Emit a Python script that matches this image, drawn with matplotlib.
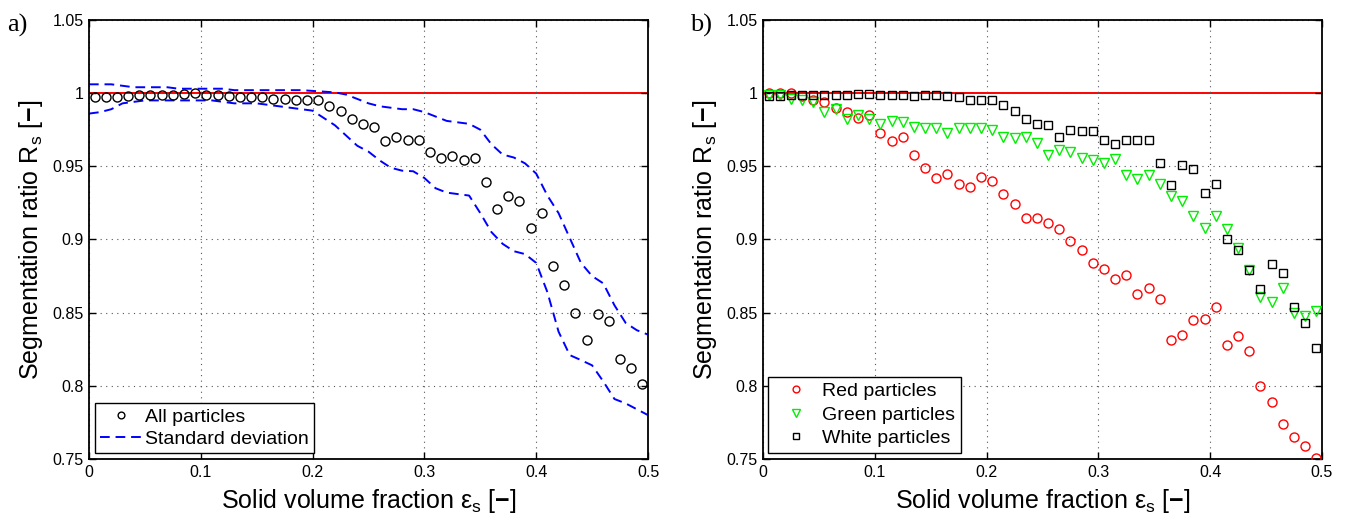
import numpy as np
import matplotlib
matplotlib.use("Agg")
import matplotlib.pyplot as plt

plt.rcParams["font.family"] = ["Liberation Sans", "DejaVu Sans"]
plt.rcParams["mathtext.fontset"] = "custom"
plt.rcParams["mathtext.rm"] = "Liberation Sans"
plt.rcParams["mathtext.it"] = "Liberation Sans:italic"
plt.rcParams["mathtext.bf"] = "Liberation Sans:bold"

# ── data ──
eps = np.round(np.arange(0.005, 0.5, 0.01), 3)          # marker positions
eps_std = np.round(np.arange(0.0, 0.501, 0.01), 2)      # std-deviation curve positions

rs_all = [0.997, 0.997, 0.997, 0.998, 0.999, 0.999, 0.999, 0.999, 0.9995, 1.000,
          0.999, 0.999, 0.998, 0.997, 0.997, 0.997, 0.996, 0.996, 0.995, 0.995,
          0.995, 0.991, 0.988, 0.982, 0.979, 0.977, 0.967, 0.970, 0.968, 0.968,
          0.960, 0.956, 0.957, 0.954, 0.956, 0.939, 0.921, 0.930, 0.926, 0.908,
          0.918, 0.882, 0.869, 0.850, 0.831, 0.849, 0.844, 0.818, 0.812, 0.801]

std_upper = [1.006, 1.006, 1.006, 1.005, 1.004, 1.004, 1.004, 1.004, 1.003, 1.003,
             1.003, 1.003, 1.003, 1.002, 1.002, 1.002, 1.002, 1.002, 1.002, 1.002,
             1.0015, 1.001, 1.0005, 0.999, 0.996, 0.993, 0.991, 0.990, 0.989, 0.989,
             0.987, 0.984, 0.981, 0.980, 0.979, 0.975, 0.965, 0.958, 0.956, 0.952,
             0.945, 0.930, 0.918, 0.901, 0.884, 0.875, 0.870, 0.855, 0.843, 0.838,
             0.835]
std_lower = [0.986, 0.987, 0.989, 0.993, 0.994, 0.995, 0.995, 0.995, 0.995, 0.995,
             0.995, 0.995, 0.994, 0.993, 0.993, 0.993, 0.992, 0.991, 0.990, 0.989,
             0.988, 0.983, 0.978, 0.971, 0.964, 0.960, 0.954, 0.949, 0.947, 0.9466,
             0.942, 0.935, 0.932, 0.931, 0.930, 0.918, 0.905, 0.897, 0.892, 0.890,
             0.884, 0.864, 0.837, 0.821, 0.8176, 0.814, 0.803, 0.791, 0.788, 0.784,
             0.780]

rs_red = [1.000, 1.000, 1.000, 0.998, 0.995, 0.994, 0.990, 0.987, 0.983, 0.985,
          0.973, 0.967, 0.970, 0.958, 0.949, 0.942, 0.945, 0.938, 0.936, 0.943,
          0.940, 0.931, 0.924, 0.915, 0.915, 0.911, 0.907, 0.899, 0.893, 0.884,
          0.880, 0.873, 0.876, 0.863, 0.867, 0.859, 0.831, 0.835, 0.845, 0.846,
          0.854, 0.828, 0.834, 0.824, 0.800, 0.789, 0.774, 0.765, 0.759, 0.751]
rs_green = [0.999, 0.999, 0.996, 0.995, 0.994, 0.987, 0.989, 0.982, 0.985, 0.982,
            0.979, 0.981, 0.980, 0.977, 0.976, 0.976, 0.973, 0.976, 0.976, 0.976,
            0.975, 0.970, 0.969, 0.970, 0.966, 0.958, 0.961, 0.960, 0.956, 0.954,
            0.952, 0.955, 0.944, 0.941, 0.944, 0.938, 0.930, 0.926, 0.916, 0.908,
            0.916, 0.907, 0.894, 0.879, 0.861, 0.857, 0.867, 0.850, 0.848, 0.851]
rs_white = [0.998, 0.998, 0.999, 0.999, 0.999, 0.999, 0.999, 0.999, 0.9995, 0.9995,
            0.999, 0.999, 0.9985, 0.998, 0.999, 0.9985, 0.998, 0.997, 0.995, 0.995,
            0.995, 0.992, 0.988, 0.982, 0.979, 0.978, 0.970, 0.975, 0.974, 0.974,
            0.968, 0.965, 0.968, 0.968, 0.968, 0.952, 0.937, 0.951, 0.948, 0.932,
            0.938, 0.900, 0.893, 0.879, 0.866, 0.883, 0.877, 0.854, 0.843, 0.826]

x_ticks = [0, 0.1, 0.2, 0.3, 0.4, 0.5]
y_ticks = [0.75, 0.8, 0.85, 0.9, 0.95, 1.0, 1.05]

XLABEL = r"Solid volume fraction ε$_\mathrm{s}$ [$\mathbf{-}$]"
YLABEL = r"Segmentation ratio R$_\mathrm{s}$ [$\mathbf{-}$]"


def style_axes(ax):
    ax.set_xlim(0, 0.5)
    ax.set_ylim(0.75, 1.05)
    ax.set_xticks(x_ticks)
    ax.set_xticklabels([f"{v:g}" for v in x_ticks])
    ax.set_yticks(y_ticks)
    ax.set_yticklabels([f"{v:g}" for v in y_ticks])
    ax.grid(True, linestyle=(0, (1, 4)), color="#555555", linewidth=0.8)
    ax.tick_params(direction="in", top=True, right=True, length=5,
                   width=1.0, labelsize=11.5, pad=4)
    for sp in ax.spines.values():
        sp.set_linewidth(1.3)
    ax.set_xlabel(XLABEL, fontsize=18, labelpad=5)
    ax.set_ylabel(YLABEL, fontsize=18, labelpad=5)
    ax.axhline(1.0, color="#ff0000", linewidth=1.4, zorder=1.5)


fig = plt.figure(figsize=(13.52, 5.24), dpi=100)
ax1 = fig.add_axes([0.0658, 0.124, 0.4135, 0.838])
ax2 = fig.add_axes([0.5643, 0.124, 0.4135, 0.838])

# ── Panel a
style_axes(ax1)
ax1.plot(eps, rs_all, "o", mfc="none", mec="black", ms=6.5, mew=1.0,
         label="All particles", zorder=3)
ax1.plot(eps_std, std_upper, "--", color="#0000ff", linewidth=1.4, dashes=(5, 3),
         label="Standard deviation", zorder=2)
ax1.plot(eps_std, std_lower, "--", color="#0000ff", linewidth=1.4, dashes=(5, 3),
         zorder=2)
leg1 = ax1.legend(loc="lower left", bbox_to_anchor=(0.0107, 0.0137), borderaxespad=0,
                  fontsize=14, fancybox=False, framealpha=1, edgecolor="black",
                  handlelength=2.2, handletextpad=0.15, labelspacing=0.25,
                  borderpad=0.25, markerscale=0.75)
leg1.get_frame().set_linewidth(1.0)

# ── Panel b
style_axes(ax2)
ax2.plot(eps, rs_red, "o", mfc="none", mec="#ff0000", ms=6.5, mew=1.0,
         label="Red particles", zorder=3)
ax2.plot(eps, rs_green, "v", mfc="none", mec="#00ee00", ms=7.5, mew=1.0,
         label="Green particles", zorder=3)
ax2.plot(eps, rs_white, "s", mfc="none", mec="black", ms=5.5, mew=1.0,
         label="White particles", zorder=3)
leg2 = ax2.legend(loc="lower left", bbox_to_anchor=(0.009, 0.0137), borderaxespad=0,
                  fontsize=14, fancybox=False, framealpha=1, edgecolor="black",
                  handlelength=2.3, handletextpad=0.2, labelspacing=0.3,
                  borderpad=0.3, markerscale=0.75)
leg2.get_frame().set_linewidth(1.0)

# panel letters
fig.text(0.005, 0.94, "a)", fontsize=19, family=["Liberation Serif", "DejaVu Serif"])
fig.text(0.510, 0.94, "b)", fontsize=19, family=["Liberation Serif", "DejaVu Serif"])

fig.savefig("out.png", dpi=100)
